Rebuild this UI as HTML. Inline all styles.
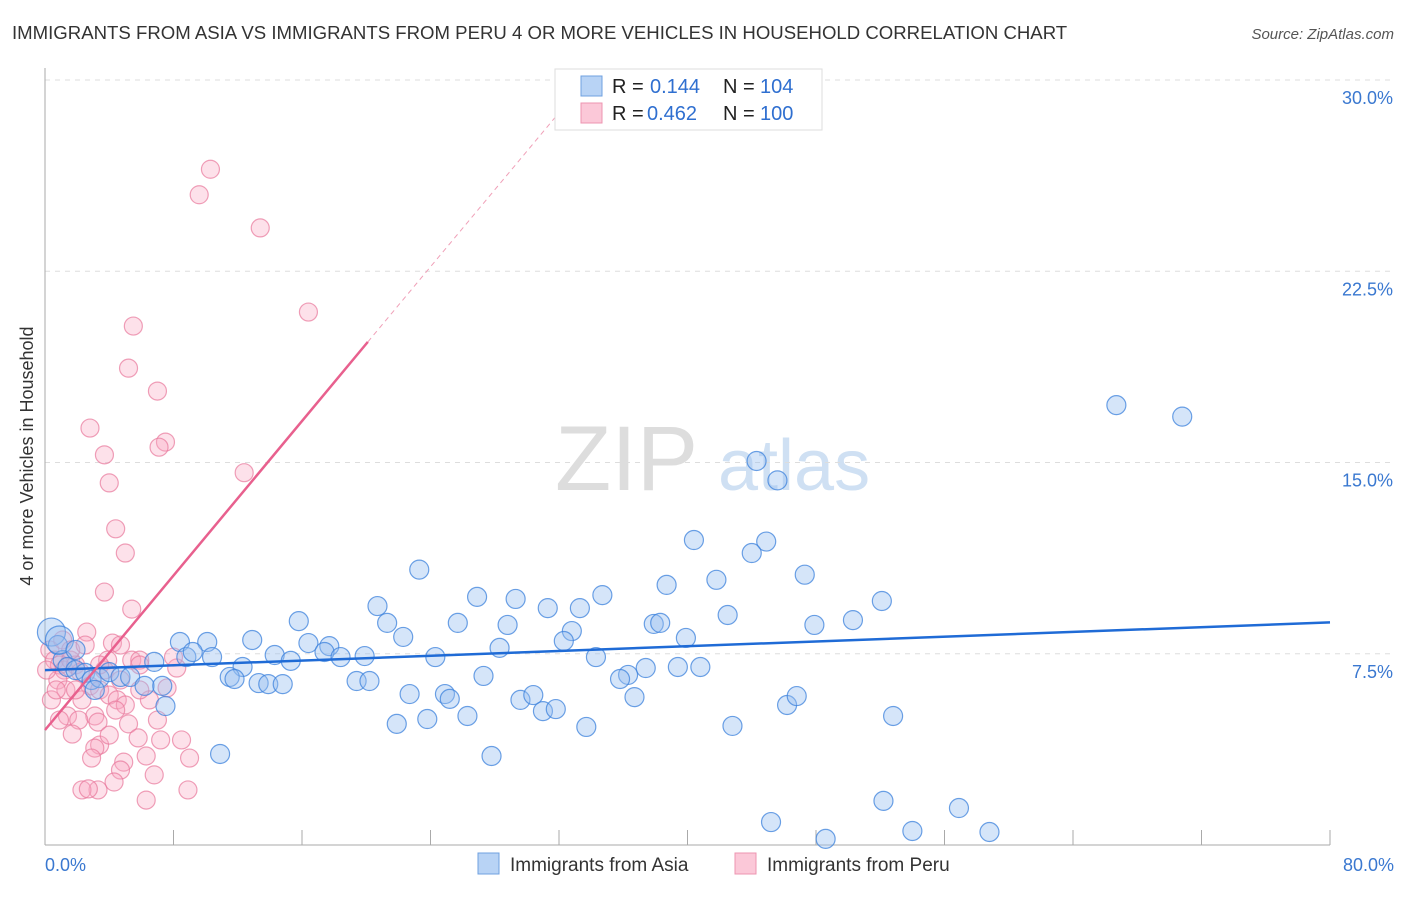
<!DOCTYPE html>
<html><head><meta charset="utf-8"><style>
body{margin:0;background:#fff;font-family:"Liberation Sans",sans-serif;}
svg text{font-family:"Liberation Sans",sans-serif;}
</style></head><body>
<svg id="chart" width="1406" height="892" xmlns="http://www.w3.org/2000/svg">
<text x="12" y="39" font-size="18.6" fill="#333">IMMIGRANTS FROM ASIA VS IMMIGRANTS FROM PERU 4 OR MORE VEHICLES IN HOUSEHOLD CORRELATION CHART</text>
<text x="1394" y="39" font-size="15" fill="#555" font-style="italic" text-anchor="end">Source: ZipAtlas.com</text>
<text x="555" y="490" font-size="92" fill="#ddd" font-family="Liberation Serif">ZIP</text>
<text x="718" y="490" font-size="72" fill="#cfe0f3">atlas</text>
<g id="grid"></g>
<g id="pts"></g>
<g id="lines"></g>
<text transform="translate(33,456) rotate(-90)" font-size="18" fill="#333" text-anchor="middle">4 or more Vehicles in Household</text>
<g>
<rect x="555" y="69" width="267" height="61" fill="#fff" stroke="#ddd"/>
<rect x="581" y="76" width="21" height="20" fill="#b8d3f5" stroke="#6fa0e0"/>
<rect x="581" y="103" width="21" height="20" fill="#fbc8d8" stroke="#ee94b0"/>
<text x="612" y="93" font-size="20" fill="#222">R =</text>
<text x="650" y="93" font-size="20" fill="#2f6fd0">0.144</text>
<text x="723" y="93" font-size="20" fill="#222">N =</text>
<text x="760" y="93" font-size="20" fill="#2f6fd0">104</text>
<text x="612" y="120" font-size="20" fill="#222">R =</text>
<text x="647" y="120" font-size="20" fill="#2f6fd0">0.462</text>
<text x="723" y="120" font-size="20" fill="#222">N =</text>
<text x="760" y="120" font-size="20" fill="#2f6fd0">100</text>
</g>
<g>
<rect x="478" y="853" width="21" height="21" fill="#b8d3f5" stroke="#6fa0e0"/>
<text x="510" y="871" font-size="19" fill="#333">Immigrants from Asia</text>
<rect x="735" y="853" width="21" height="21" fill="#fbc8d8" stroke="#ee94b0"/>
<text x="767" y="871" font-size="19" fill="#333">Immigrants from Peru</text>
</g>
</svg>
<script>
const yTicks=[7.5,15,22.5,30];
const yTickLabels=["7.5%","15.0%","22.5%","30.0%"];
const xTicks=[0,8,16,24,32,40,48,56,64,72,80];
const xEndLabels=["0.0%","80.0%"];
const asiaX=[66.7,70.8,44.3,45.6,40.4,44.9,44.0,47.3,23.3,38.7,41.8,26.9,29.3,34.7,52.1,20.7,31.3,33.3,42.5,15.8,21.3,25.7,28.8,37.9,38.3,47.9,50.3,32.8,22.3,39.9,12.9,16.4,17.7,32.3,28.3,8.4,10.1,17.4,18.4,19.9,24.3,14.3,15.3,34.3,6.8,8.8,9.2,10.4,12.3,37.4,39.4,40.8,36.3,27.3,35.8,11.5,11.8,13.3,13.9,14.8,19.4,20.2,22.7,24.9,25.2,29.6,30.4,31.0,31.8,36.7,46.2,46.8,21.9,23.8,26.3,33.7,42.8,52.8,27.8,10.9,52.2,56.9,45.2,54.0,58.8,48.6,0.4,0.8,1.1,1.4,1.9,2.5,2.9,3.4,4.0,4.7,5.3,6.2,7.3,7.5,0.9,1.9,3.1];
const asiaY=[17.25,16.8,15.06,14.3,11.96,11.9,11.45,10.6,10.8,10.2,10.4,9.73,9.65,9.8,9.57,9.37,9.29,9.29,9.02,8.78,8.71,8.71,8.63,8.67,8.71,8.63,8.82,8.39,8.16,8.12,8.04,7.92,7.8,8.0,7.73,7.96,7.96,7.57,7.37,7.41,7.37,7.45,7.22,7.37,7.18,7.37,7.57,7.37,6.98,6.94,6.98,6.98,6.67,6.63,6.51,6.59,6.51,6.35,6.31,6.31,6.43,6.43,5.92,5.92,5.73,5.69,5.88,5.25,5.33,5.8,5.49,5.84,4.75,4.94,5.06,4.63,4.67,5.06,3.49,3.57,1.73,1.45,0.9,0.55,0.51,0.24,8.35,7.84,7.25,6.98,6.86,6.75,6.47,6.55,6.78,6.59,6.59,6.24,6.24,5.45,8.04,7.65,6.08];
const peruX=[10.3,9.6,13.4,16.4,5.5,5.2,7.0,7.5,7.1,12.4,2.8,3.7,4.0,4.4,5.0,3.7,5.4,2.6,4.2,5.4,5.9,8.2,8.0,0.3,0.6,0.9,1.2,1.6,1.9,2.2,0.8,1.3,2.8,3.4,4.0,4.5,5.0,4.4,6.5,3.1,1.4,2.1,3.3,5.2,7.0,1.7,3.4,3.1,2.9,5.8,7.2,8.5,9.0,6.3,4.9,4.7,4.3,3.3,2.3,2.7,6.8,8.9,6.3,0.9,0.4,0.7,0.1,1.1,1.6,2.5,3.9,4.7,5.9,7.6,4.0,3.7,4.7,3.4,2.3,1.9,5.9];
const peruY=[26.5,25.5,24.2,20.9,20.35,18.7,17.8,15.8,15.6,14.6,16.35,15.3,14.2,12.4,11.45,9.92,9.25,8.35,7.92,7.25,7.25,6.94,7.37,7.65,7.25,7.06,6.86,7.25,7.06,6.78,6.47,6.08,6.24,6.08,5.88,5.69,5.49,5.29,5.69,5.06,5.06,4.9,4.82,4.75,4.9,4.35,3.92,3.8,3.41,4.2,4.12,4.12,3.41,3.49,3.25,2.94,2.47,2.16,2.16,2.2,2.75,2.16,1.76,4.9,5.69,6.08,6.86,8.04,7.65,7.84,7.25,6.47,6.08,6.16,4.31,6.86,7.84,7.06,5.69,6.08,7.06];
const asiaTrend=[[0,6.86],[80,8.73]];
const peruTrend=[[0,4.51],[20.1,19.73]];
const peruDash=[[20.1,19.73],[33.7,30]];
const NS="http://www.w3.org/2000/svg";
const X=v=>45+v/80*1285, Y=v=>845-v/30*765;
function mk(t,a,p){const e=document.createElementNS(NS,t);for(const k in a)e.setAttribute(k,a[k]);p.appendChild(e);return e;}
const grid=document.getElementById('grid');
yTicks.forEach((t,i)=>{
 const l=mk('line',{x1:45,x2:1394,y1:Y(t),y2:Y(t),stroke:'#ddd','stroke-dasharray':'5,5'},grid);
 
 
 const tx=mk('text',{x:1393,y:Y(t)+24,'font-size':18,fill:'#3a78d0','text-anchor':'end'},grid);
 tx.textContent=yTickLabels[i];
 
 
});
const ax=mk('line',{x1:45,x2:45,y1:68,y2:845,stroke:'#aaa'},grid);


const bx=mk('line',{x1:45,x2:1330,y1:845,y2:845,stroke:'#aaa'},grid);


xTicks.forEach(t=>{
 const l=mk('line',{x1:X(t),x2:X(t),y1:830,y2:845,stroke:'#aaa'},grid);
 
 
});
[[0,'start',45],[80,'end',1394]].forEach((d,i)=>{
 const tx=mk('text',{x:d[2],y:871,'font-size':18,fill:'#3a78d0','text-anchor':d[1]},grid);
 tx.textContent=xEndLabels[i];
 
 
});
const pts=document.getElementById('pts');
peruX.forEach((x,i)=>{
 const c=mk('circle',{cx:X(x),cy:Y(peruY[i]),r:9,fill:'rgba(248,170,195,0.35)',stroke:'rgba(232,120,155,0.7)','stroke-width':1.2},pts);
 
 
});
asiaX.forEach((x,i)=>{
 const c=mk('circle',{cx:X(x),cy:Y(asiaY[i]),r:(x<1.2&&asiaY[i]>8)?14:9.5,fill:'rgba(150,190,240,0.4)',stroke:'rgba(60,130,220,0.75)','stroke-width':1.2},pts);
 
 
});
const lines=document.getElementById('lines');
const a=mk('line',{x1:X(asiaTrend[0][0]),y1:Y(asiaTrend[0][1]),x2:X(asiaTrend[1][0]),y2:Y(asiaTrend[1][1]),stroke:'#1f6bd6','stroke-width':2.5},lines);


const p=mk('line',{x1:X(peruTrend[0][0]),y1:Y(peruTrend[0][1]),x2:X(peruTrend[1][0]),y2:Y(peruTrend[1][1]),stroke:'#e8608e','stroke-width':2.5},lines);


const pd=mk('line',{x1:X(peruDash[0][0]),y1:Y(peruDash[0][1]),x2:X(peruDash[1][0]),y2:Y(peruDash[1][1]),stroke:'#f0a0b8','stroke-width':1,'stroke-dasharray':'5,4'},lines);


</script>
</body></html>
